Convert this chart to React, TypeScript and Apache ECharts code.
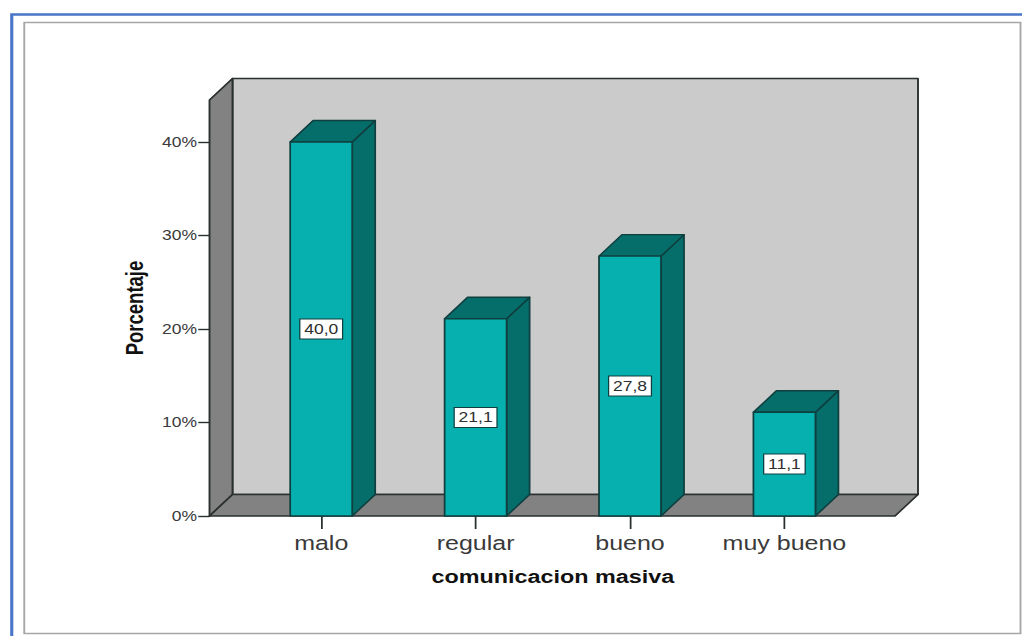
import React, { useEffect, useRef } from "react";
import * as echarts from "echarts";

// Chart is authored in a narrower space and widened by STRETCH as a whole.
const STRETCH = 1.25;
const BASE_WIDTH = 818;
const HEIGHT = 636;

const categories = ["malo", "regular", "bueno", "muy bueno"];
const percentages = [40.0, 21.1, 27.8, 11.1];
const yTicks = [0, 10, 20, 30, 40];
const yMax = 44.5;

const FONT = '"Liberation Sans", Arial, sans-serif';
const INK = "#2e2e2e";
const EDGE = "#2a2f2f";
const WALL = "#828282";
const PANEL = "#cbcbcb";
const BAR_FRONT = "#06b0ae";
const BAR_SHADE = "#056e6b";
const BAR_EDGE = "#0f3f3f";

// Box depth of the pseudo-3D projection
const DEPTH_X = 18.4;
const DEPTH_Y = 21.5;
const BAR_WIDTH = 49.6;
const WALL_LEFT = 27.6;
const WALL_RIGHT = 26.7;

function renderBackdrop(params: any) {
  const { x, y, width, height } = params.coordSys;
  const left = x - WALL_LEFT;
  const right = x + width + WALL_RIGHT;
  const bottom = y + height;
  const stroke = { stroke: EDGE, lineWidth: 1.5, lineJoin: "round" };
  return {
    type: "group",
    children: [
      {
        type: "rect",
        shape: {
          x: left + DEPTH_X,
          y: y - DEPTH_Y,
          width: right - left,
          height: height,
        },
        style: { fill: PANEL, ...stroke },
      },
      {
        type: "polygon",
        shape: {
          points: [
            [left, y],
            [left + DEPTH_X, y - DEPTH_Y],
            [left + DEPTH_X, bottom - DEPTH_Y],
            [left, bottom],
          ],
        },
        style: { fill: WALL, ...stroke },
      },
      {
        type: "polygon",
        shape: {
          points: [
            [left, bottom],
            [left + DEPTH_X, bottom - DEPTH_Y],
            [right + DEPTH_X, bottom - DEPTH_Y],
            [right, bottom],
          ],
        },
        style: { fill: WALL, ...stroke },
      },
    ],
  };
}

function renderBar(_params: any, api: any) {
  const value = api.value(1);
  const [cx, top] = api.coord([api.value(0), value]);
  const [, base] = api.coord([api.value(0), 0]);
  const l = cx - BAR_WIDTH / 2;
  const r = cx + BAR_WIDTH / 2;
  const stroke = { stroke: BAR_EDGE, lineWidth: 1.4, lineJoin: "round" };
  return {
    type: "group",
    children: [
      {
        type: "polygon",
        shape: {
          points: [
            [r, top],
            [r + DEPTH_X, top - DEPTH_Y],
            [r + DEPTH_X, base - DEPTH_Y],
            [r, base],
          ],
        },
        style: { fill: BAR_SHADE, ...stroke },
      },
      {
        type: "polygon",
        shape: {
          points: [
            [l, top],
            [l + DEPTH_X, top - DEPTH_Y],
            [r + DEPTH_X, top - DEPTH_Y],
            [r, top],
          ],
        },
        style: { fill: BAR_SHADE, ...stroke },
      },
      {
        type: "rect",
        shape: { x: l, y: top, width: BAR_WIDTH, height: base - top },
        style: { fill: BAR_FRONT, ...stroke },
      },
      {
        type: "text",
        x: cx,
        y: (top + base) / 2,
        style: {
          text: value.toFixed(1).replace(".", ","),
          fill: INK,
          font: `14px ${FONT}`,
          align: "center",
          verticalAlign: "middle",
          backgroundColor: "#ffffff",
          borderColor: BAR_EDGE,
          borderWidth: 1,
          padding: [3, 3, 2, 3],
        },
      },
    ],
  };
}

export default function App() {
  const ref = useRef<HTMLDivElement>(null);

  useEffect(() => {
    const chart = echarts.init(ref.current!, undefined, { renderer: "svg" });
    chart.setOption({
      animation: false,
      backgroundColor: "#ffffff",
      grid: {
        left: 195.2,
        top: 100,
        width: 494.1,
        height: 416,
      },
      xAxis: {
        type: "category",
        data: categories,
        name: "comunicacion masiva",
        nameLocation: "middle",
        nameGap: 51,
        nameTextStyle: {
          color: "#111111",
          fontFamily: FONT,
          fontSize: 18.7,
          fontWeight: "bold",
        },
        axisLine: { show: false },
        axisTick: {
          show: true,
          alignWithLabel: true,
          length: 13,
          lineStyle: { color: EDGE, width: 1.4 },
        },
        axisLabel: {
          color: "#3a3a3a",
          fontFamily: FONT,
          fontSize: 20,
          margin: 17,
          interval: 0,
        },
      },
      yAxis: {
        type: "value",
        min: 0,
        max: yMax,
        offset: WALL_LEFT,
        name: "Porcentaje",
        nameLocation: "middle",
        nameRotate: 90,
        nameGap: 50,
        nameTextStyle: {
          color: "#111111",
          fontFamily: FONT,
          fontSize: 18.5,
          fontWeight: "bold",
        },
        splitLine: { show: false },
        axisLine: { show: true, lineStyle: { color: EDGE, width: 1.5 } },
        axisTick: {
          show: true,
          length: 9,
          customValues: yTicks,
          lineStyle: { color: EDGE, width: 1.4 },
        },
        axisLabel: {
          color: "#3a3a3a",
          fontFamily: FONT,
          fontSize: 14,
          margin: 10,
          customValues: yTicks,
          formatter: (v: number) => `${v}%`,
        },
      },
      graphic: [
        {
          type: "rect",
          silent: true,
          shape: { x: 9.4, y: 14.5, width: 900, height: 700 },
          style: { fill: "none", stroke: "#4a76c8", lineWidth: 2.5 },
        },
        {
          type: "rect",
          silent: true,
          shape: { x: 19.4, y: 22.5, width: 797, height: 611 },
          style: { fill: "none", stroke: "#a6a6a6", lineWidth: 1.5 },
        },
      ],
      series: [
        {
          type: "custom",
          z: 1,
          silent: true,
          data: [[0, 0]],
          renderItem: renderBackdrop,
        },
        {
          type: "custom",
          z: 2,
          silent: true,
          data: percentages.map((v, i) => [i, v]),
          encode: { x: 0, y: 1 },
          renderItem: renderBar,
        },
      ],
    });
    return () => chart.dispose();
  }, []);

  return (
    <div
      ref={ref}
      style={{
        position: "fixed",
        left: 0,
        top: 0,
        width: BASE_WIDTH,
        height: HEIGHT,
        transform: `scaleX(${STRETCH})`,
        transformOrigin: "left top",
      }}
    />
  );
}
